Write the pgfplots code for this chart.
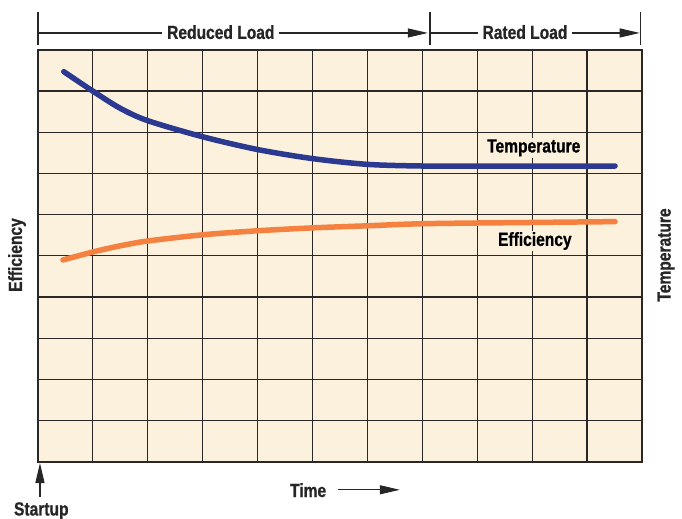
\documentclass[border=0pt]{standalone}
\usepackage{pgfplots}
\pgfplotsset{compat=1.18}
\usepackage{fontspec}
\setmainfont{Liberation Sans}[FakeStretch=0.82, BoldFeatures={FakeBold=0.8}]
\usetikzlibrary{arrows.meta}
\definecolor{bgc}{HTML}{FBF1DC}
\definecolor{tempc}{HTML}{2B3990}
\definecolor{effc}{HTML}{F58140}
\definecolor{gridc}{HTML}{2A2726}
\begin{document}
\begin{tikzpicture}[font=\fontsize{19bp}{21bp}\selectfont\bfseries]
\begin{axis}[
  x=54.91bp, y=41.2bp,
  xmin=0, xmax=11, ymin=0, ymax=10,
  axis background/.style={fill=bgc},
  xtick={0,...,11}, ytick={0,...,10},
  xticklabels={}, yticklabels={},
  major tick length=0pt,
  grid=major,
  major grid style={gridc, line width=1.2bp},
  axis line style={gridc, line width=1.5bp},
  clip=false,
]
\addplot[tempc, line width=5.5bp, line cap=round, smooth, tension=0.5] coordinates {
(0.47,9.47) (1.02,8.98) (1.50,8.58) (2.00,8.28) (3.00,7.89) (4.00,7.58) (5.00,7.36) (6.00,7.22) (7.00,7.18) (8.05,7.18) (9.00,7.18) (10.51,7.18)};
\addplot[effc, line width=5.5bp, line cap=round, smooth, tension=0.5] coordinates {
(0.455,4.90) (1.02,5.10) (1.49,5.24) (2.00,5.36) (3.00,5.51) (4.02,5.61) (5.03,5.68) (6.03,5.73) (7.03,5.78) (9.03,5.81) (10.51,5.83)};
\node[fill=bgc, inner sep=1.5bp] at (axis cs:9.03,7.62) {Temperature};
\node[fill=bgc, inner sep=1.5bp] at (axis cs:9.05,5.36) {Efficiency};
% top annotation
\draw[line width=1.3bp, black!85] (axis cs:0,10.92) -- (axis cs:0,10.12);
\draw[line width=1.3bp, black!85] (axis cs:7.139,10.92) -- (axis cs:7.139,10.12);
\draw[line width=1.3bp, black!85] (axis cs:10.98,10.92) -- (axis cs:10.98,10.12);
\draw[line width=1.1bp, black!85, -{Triangle[length=20bp,width=9bp]}] (axis cs:0,10.41) -- (axis cs:7.10,10.41);
\draw[line width=1.1bp, black!85, -{Triangle[length=20bp,width=9bp]}] (axis cs:7.139,10.41) -- (axis cs:10.96,10.41);
\node[fill=white, inner xsep=5bp, inner ysep=1bp, text=black!85] at (axis cs:3.33,10.43) {Reduced Load};
\node[fill=white, inner xsep=5bp, inner ysep=1bp, text=black!85] at (axis cs:8.87,10.43) {Rated Load};
% bottom
\draw[line width=1.3bp, black!85, -{Triangle[length=20bp,width=9bp]}] (axis cs:0.036,-0.85) -- (axis cs:0.036,-0.03);
\node[text=black!85] at (axis cs:0.06,-1.19) {Startup};
\node[text=black!85] at (axis cs:4.92,-0.69) {Time};
\draw[line width=1.1bp, black!85, -{Triangle[length=20bp,width=9bp]}] (axis cs:5.46,-0.68) -- (axis cs:6.59,-0.68);
% side labels
\node[rotate=90, text=black!85] at (axis cs:-0.382,5.02) {Efficiency};
\node[rotate=90, text=black!85] at (axis cs:11.44,5.02) {Temperature};
\coordinate (bbsw) at (axis cs:-0.692,-1.38);
\coordinate (bbne) at (axis cs:11.73,11.21);
\end{axis}
\pgfresetboundingbox
\path (bbsw) rectangle (bbne);
\end{tikzpicture}
\end{document}
